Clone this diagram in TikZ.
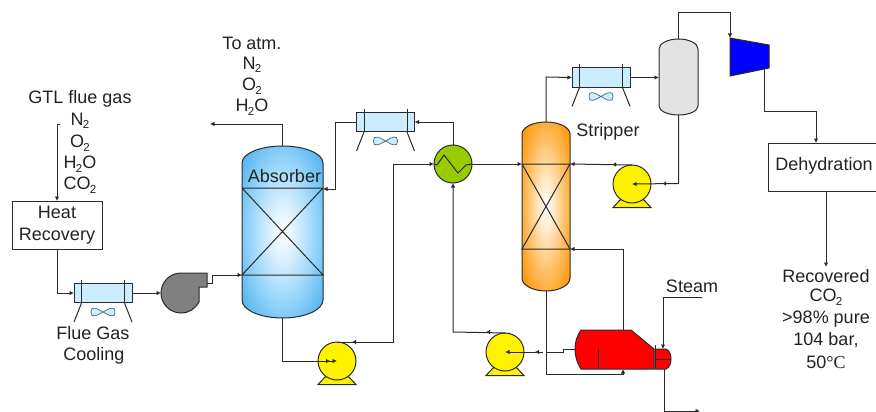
\documentclass[tikz,border=0pt]{standalone}
\usepackage{fontspec}
\setmainfont{Liberation Sans}
\newfontfamily\serifpart{Liberation Serif}
\usetikzlibrary{arrows.meta}
\definecolor{linecol}{HTML}{2A2A2A}
\definecolor{textcol}{HTML}{222222}
\definecolor{absedge}{HTML}{5CB8F0}
\definecolor{absmid}{HTML}{99D6FB}
\definecolor{stredge}{HTML}{FF9A12}
\definecolor{strmid}{HTML}{FFBE60}
\definecolor{coolfill}{HTML}{CCECFF}
\definecolor{fanline}{HTML}{4A6A7A}
\definecolor{hxgreen}{HTML}{99CC00}
\pgfdeclareradialshading{absshade}{\pgfpoint{0bp}{0bp}}{color(0bp)=(white); color(9bp)=(absmid!40!white); color(20bp)=(absmid); color(31bp)=(absedge); color(50bp)=(absedge)}
\pgfdeclareradialshading{strshade}{\pgfpoint{0bp}{0bp}}{color(0bp)=(white); color(9bp)=(strmid!40!white); color(20bp)=(strmid); color(31bp)=(stredge); color(50bp)=(stredge)}
\newcommand{\sbs}[1]{\kern-0.04em\raisebox{-0.2em}{\fontsize{11.5}{12}\selectfont #1}}
\newcommand{\Htwo}{H\sbs{2}O}
% cooler: name, centre x, centre y
\newcommand{\aircooler}[3]{%
  \node[coolbox] (#1) at (#2,#3) {};
  \begin{scope}[shift={(#2,#3)}]
    \draw[eqline] (-21.5,-13) -- (-21.5,10) (21.5,-13) -- (21.5,10);
    \draw[eqline] (-21.5,10) -- (-29,29) (21.5,10) -- (29,29);
    \draw[fanline,fill=coolfill,line width=0.7pt] (-11,15.5) .. controls (-7,14) and (-3,17.5) .. (0,19) .. controls (3,17.5) and (7,14) .. (11,15.5) .. controls (12.5,17.5) and (12.5,20.5) .. (11,22.5) .. controls (7,24) and (3,20.5) .. (0,19) .. controls (-3,20.5) and (-7,24) .. (-11,22.5) .. controls (-12.5,20.5) and (-12.5,17.5) .. (-11,15.5) -- cycle;
  \end{scope}}
% pump: name, centre x, centre y
\newcommand{\pumpunit}[3]{%
  \begin{scope}[shift={(#2,#3)}]
    \draw[eqline,fill=yellow] (-19,23.5) -- (-10,14) -- (10,14) -- (19,23.5) -- cycle;
  \end{scope}
  \node[pumpbody] (#1) at (#2,#3) {};}
\tikzset{
  x=1pt,y=-1pt,
  every node/.style={text=textcol,font=\fontsize{18}{21}\selectfont,inner sep=0pt,outer sep=0pt},
  eqline/.style={draw=linecol,line width=1pt},
  pipe/.style={draw=linecol,line width=1pt},
  flow/.style={pipe,-{Latex[length=4.5pt,width=4.5pt]}},
  tick/.style={draw=linecol,line width=1pt,-{Latex[length=4pt,width=4.5pt]}},
  coolbox/.style={rectangle,eqline,fill=coolfill,minimum width=58pt,minimum height=19.5pt},
  pumpbody/.style={circle,eqline,fill=yellow,minimum size=38pt},
  boxnode/.style={rectangle,eqline,fill=white,align=center},
  lab/.style={align=center},
}
\begin{document}
\begin{tikzpicture}
\useasboundingbox (0,0) rectangle (876,412);
% ---- vessels
\path[eqline,shading=absshade] (242,163) .. controls (242,153.6) and (260,146) .. (282.5,146) .. controls (305,146) and (323,153.6) .. (323,163) -- (323,300) .. controls (323,309.9) and (305,318) .. (282.5,318) .. controls (260,318) and (242,309.9) .. (242,300) -- cycle;
\coordinate (abstop) at (282.5,146);
\coordinate (absbot) at (282.5,318);
\coordinate (absTL) at (242,188);
\coordinate (absTR) at (323,188);
\coordinate (absBL) at (242,275);
\coordinate (absBR) at (323,275);
\draw[eqline] (absTL) -- (absTR) -- (absBL) -- (absBR) -- (absTL);
\path[eqline,shading=strshade] (522,134) .. controls (522,127.4) and (532.8,122) .. (546,122) .. controls (559.2,122) and (570,127.4) .. (570,134) -- (570,278) .. controls (570,285.2) and (559.2,291) .. (546,291) .. controls (532.8,291) and (522,285.2) .. (522,278) -- cycle;
\coordinate (strtop) at (546,122);
\coordinate (strbot) at (546,291);
\coordinate (strTL) at (522,164);
\coordinate (strTR) at (570,164);
\coordinate (strBL) at (522,249);
\coordinate (strBR) at (570,249);
\draw[eqline] (strTL) -- (strTR) -- (strBL) -- (strBR) -- (strTL);
\path[eqline,fill=black!11] (659,49) .. controls (659,43.5) and (667.7,39) .. (678.5,39) .. controls (689.3,39) and (698,43.5) .. (698,49) -- (698,106) .. controls (698,111) and (689.3,115) .. (678.5,115) .. controls (667.7,115) and (659,111) .. (659,106) -- cycle;
\coordinate (drumtop) at (678.5,39);
\coordinate (drumbot) at (678.5,115);
\coordinate (drumin) at (659,77.5);
% ---- blower
\path[eqline,fill=black!50] (181,273) -- (207,273) -- (207,287) -- (199,287) -- (199,302) .. controls (195,309) and (189,313) .. (181,313) .. controls (170,313) and (161,304) .. (161,293) .. controls (161,282) and (170,273) .. (181,273) -- cycle;
\coordinate (blowin) at (161,293);
\coordinate (blowout) at (207,283);
% ---- compressor
\path[eqline,fill=blue] (730,38) -- (769,45) -- (769,68) -- (730,76) -- cycle;
\coordinate (compin) at (730,38);
\coordinate (compout) at (764,69);
% ---- heater
\path[eqline,fill=red] (581,330) -- (631,330) -- (654,349) -- (654,369) -- (581,369) .. controls (577,363) and (575,356) .. (575,349) .. controls (575,342) and (577,336) .. (581,330) -- cycle;
\path[eqline,fill=red] (655,349) -- (666,349) .. controls (670,351) and (671,355) .. (671,359) .. controls (671,363) and (670,367) .. (666,369) -- (655,369) -- cycle;
\draw[eqline] (655,345) -- (655,369) (655,359) -- (671,359) (598,349) -- (598,369);
\coordinate (heatL) at (575,349);
\coordinate (heatT) at (623,330);
\coordinate (heatB) at (623,369);
\coordinate (headT) at (663,349);
\coordinate (headB) at (664,369);
% ---- coolers, pumps, exchanger
\aircooler{c1}{103}{293}
\aircooler{c2}{385.5}{122}
\aircooler{c3}{601}{77.5}
\pumpunit{p1}{337}{361}
\pumpunit{p2}{505}{352}
\pumpunit{p3}{632}{184}
\node[circle,eqline,fill=hxgreen,minimum size=38pt] (hx) at (453,164) {};
\draw[eqline] (hx.west) -- (437,165) -- (444,155) -- (458,173) -- (466,165) -- (hx.east);
% ---- boxes
\node[boxnode,minimum width=90pt,minimum height=48pt] (hr) at (57,225) {Heat\\[1pt]Recovery};
\node[boxnode,minimum width=108pt,minimum height=48pt,anchor=north west] (dh) at (768,143) {};
% ---- labels
\node[lab] (tglabel) at (80,99) {GTL flue gas};
\node[lab] (tn2a) at (80,121) {N\sbs{2}};
\node[lab] (to2a) at (80,143) {O\sbs{2}};
\node[lab] (th2a) at (80,164) {\Htwo};
\node[lab] (tco2) at (80,185) {CO\sbs{2}};
\node[lab] (tatm) at (252,43) {To atm.};
\node[lab] (tn2b) at (252,65) {N\sbs{2}};
\node[lab] (to2b) at (252,86) {O\sbs{2}};
\node[lab] (th2b) at (252,107) {\Htwo};
\node[lab] (tabs) at (284.5,176) {Absorber};
\node[lab] (tstr) at (608,132) {Stripper};
\node[lab] (tflue) at (93,333) {Flue Gas};
\node[lab] (tcool) at (94,356) {Cooling};
\node[lab] (tsteam) at (692,286) {Steam};
\node[lab] (tdeh) at (824,166) {Dehydration};
\node[lab] (trec) at (826,276) {Recovered};
\node[lab] (trc) at (826,297) {CO\sbs{2}};
\node[lab] (trp) at (826,319) {>98\% pure};
\node[lab] (trb) at (826,340) {104 bar,};
\node[lab] (trt) at (826,362) {50{\serifpart °C}};
% ---- free ends
\coordinate (gtlstart) at (60,124);
\coordinate (ventend) at (210,124);
\coordinate (steamstart) at (702,297);
\coordinate (condend) at (700,411);
\coordinate (prodend) at (826,267);
% ---- connectors
\draw[pipe] (gtlstart) -- (57,124);
\draw[flow] (57,124) -- (hr.north -| 57,0);
\draw[flow] (hr.south) -- (57,293) -- (c1.west);
\draw[flow] (c1.east) -- (blowin);
\draw[flow] (blowout) -- (212,283) -- (212,275) -- (absBL);
\draw[flow] (abstop) -- (282.5,124) -- (ventend);
\draw[flow] (absbot) -- (282.5,361) -- (p1.center);
\draw[tick] (325,361) -- (330,361);
\draw[pipe] (p1.north) -- (393,342) -- (393,164);
\draw[flow] (393,164) -- (hx.west);
\draw[tick] (357,342) -- (352,342);
\draw[flow] (hx.north) -- (453,122) -- (c2.east);
\draw[flow] (c2.west) -- (335,122) -- (335,189) -- (absTR |- 0,189);
\draw[flow] (hx.east) -- (strTL);
\draw[flow] (p2.north) -- (453,332) -- (hx.south);
\draw[tick] (491,332) -- (486,332);
\draw[pipe] (heatL) -- (563,349) -- (563,352) -- (546,352);
\draw[flow] (543,352) -- (p2.center);
\draw[tick] (540,352) -- (535,352);
\draw[flow] (strtop) -- (546,77) -- (c3.west);
\draw[flow] (c3.east) -- (drumin);
\draw[flow] (drumtop) -- (678.5,13) -- (730,13) -- (compin);
\draw[flow] (compout) -- (764,111) -- (816,111) -- (816,143);
\draw[flow] (drumbot) -- (678.5,183.5) -- (p3.center);
\draw[tick] (667,183.5) -- (662,183.5);
\draw[flow] (p3.north) -- (strTR);
\draw[tick] (617,164.5) -- (612,164.5);
\draw[flow] (826,191) -- (prodend);
\draw[flow] (heatT) -- (623,249) -- (strBR);
\draw[flow] (strbot) -- (546,374) -- (623,374) -- (heatB);
\draw[flow] (steamstart) -- (663,297) -- (headT);
\draw[flow] (headB) -- (664,411) -- (condend);
\end{tikzpicture}
\end{document}
